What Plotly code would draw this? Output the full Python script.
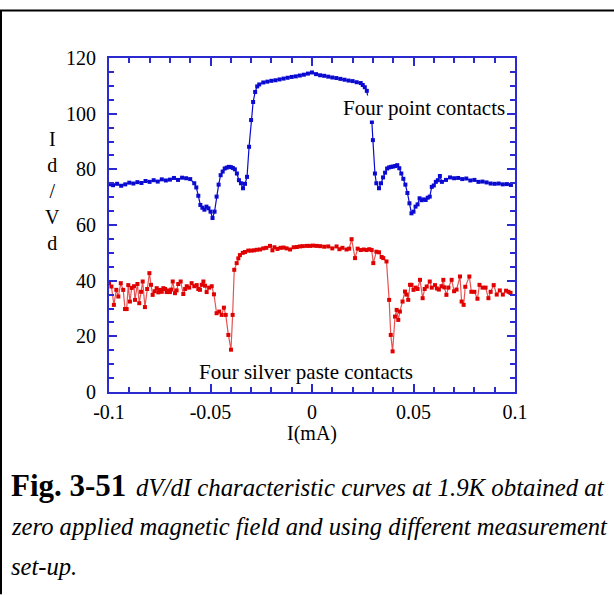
import plotly.graph_objects as go

# ---------------- data ----------------
blue_x = [-0.100, -0.098, -0.096, -0.094, -0.092, -0.090, -0.088, -0.086, -0.084, -0.082,
          -0.080, -0.078, -0.076, -0.074, -0.072, -0.070, -0.068, -0.066, -0.064, -0.062,
          -0.060, -0.058, -0.057, -0.056, -0.055, -0.054, -0.053, -0.052, -0.051, -0.050,
          -0.049, -0.048, -0.047, -0.046, -0.045, -0.044, -0.043, -0.042, -0.041, -0.040,
          -0.039, -0.038, -0.037, -0.036, -0.035, -0.034, -0.033, -0.032, -0.031, -0.030,
          -0.029, -0.028, -0.027, -0.026, -0.024, -0.022, -0.020, -0.018, -0.016, -0.014,
          -0.012, -0.010, -0.008, -0.006, -0.004, -0.002, 0.000, 0.002, 0.004, 0.006,
          0.008, 0.010, 0.012, 0.014, 0.016, 0.018, 0.020, 0.022, 0.024, 0.025,
          0.026, 0.027, 0.0295, 0.030, 0.031, 0.0317, 0.033, 0.034, 0.035, 0.036,
          0.037, 0.038, 0.039, 0.040, 0.041, 0.042, 0.043, 0.044, 0.045, 0.046,
          0.047, 0.048, 0.049, 0.050, 0.051, 0.052, 0.053, 0.054, 0.055, 0.056,
          0.057, 0.058, 0.059, 0.060, 0.061, 0.062, 0.063, 0.064, 0.066, 0.068,
          0.070, 0.072, 0.074, 0.076, 0.078, 0.080, 0.082, 0.084, 0.086, 0.088,
          0.090, 0.092, 0.094, 0.096, 0.098]
blue_y = [74.6, 74.3, 74.8, 74.1, 74.6, 75.2, 74.9, 75.4, 75.1, 75.8,
          75.5, 76.1, 75.6, 76.4, 76.0, 76.3, 76.9, 76.2, 77.0, 76.8,
          76.5, 75.0, 73.5, 70.5, 67.2, 66.2, 65.5, 66.6, 66.0, 64.8,
          62.5, 64.8, 70.2, 74.5, 77.9, 79.2, 80.3, 80.6, 80.9, 80.8,
          80.5, 80.0, 78.5, 76.1, 75.0, 73.2, 74.8, 77.3, 88.1, 97.7,
          104.2, 107.8, 109.8, 110.5, 111.2, 111.5, 111.8, 112.0, 112.3, 112.6,
          112.9, 113.2, 113.4, 113.7, 114.0, 114.4, 114.8, 114.2, 113.8, 113.6,
          113.3, 113.0, 112.8, 112.5, 112.2, 111.9, 111.7, 111.3, 111.0, 110.3,
          109.5, 108.2, 97.0, 90.5, 78.5, 75.0, 73.2, 75.0, 77.1, 78.8,
          80.3, 80.7, 80.9, 81.0, 81.2, 81.5, 80.4, 78.5, 76.6, 74.5,
          71.5, 67.8, 64.2, 64.8, 66.6, 67.4, 69.6, 68.9, 69.2, 69.0,
          69.8, 70.2, 73.7, 74.2, 75.5, 76.1, 77.6, 75.5, 76.2, 77.1,
          76.8, 76.9, 76.5, 76.7, 76.0, 76.2, 75.5, 75.6, 75.3, 74.9,
          74.8, 74.9, 74.6, 74.7, 74.4]

red_x = [-0.1000, -0.0988, -0.0976, -0.0964, -0.0954, -0.0942, -0.0930, -0.0921, -0.0913, -0.0905,
         -0.0897, -0.0888, -0.0877, -0.0872, -0.0860, -0.0851, -0.0842, -0.0834, -0.0823, -0.0812,
         -0.0801, -0.0793, -0.0785, -0.0775, -0.0765, -0.0757, -0.0749, -0.0740, -0.0732, -0.0724,
         -0.0716, -0.0708, -0.0700, -0.0693, -0.0686, -0.0675, -0.0667, -0.0659, -0.0647, -0.0634,
         -0.0625, -0.0617, -0.0605, -0.0593, -0.0580, -0.0568, -0.0560, -0.0552, -0.0543, -0.0535,
         -0.0527, -0.0519, -0.0507, -0.0494, -0.0483, -0.0470, -0.0457, -0.0445, -0.0434, -0.0425,
         -0.0412, -0.0399, -0.0391, -0.0383, -0.0371, -0.0363, -0.0355, -0.0341, -0.0330, -0.0314,
         -0.0300, -0.0285, -0.0272, -0.0256, -0.0240, -0.0225, -0.0207, -0.0195, -0.0185, -0.0170,
         -0.0155, -0.0140, -0.0125, -0.0108, -0.0090, -0.0075, -0.0060, -0.0045, -0.0026, -0.0010,
         0.0005, 0.0023, 0.0040, 0.0060, 0.0080, 0.0100, 0.0121, 0.0135, 0.0150, 0.0170,
         0.0183, 0.0195, 0.0212, 0.0225, 0.0240, 0.0255, 0.0269, 0.0282, 0.0294, 0.0302,
         0.0317, 0.0330, 0.0343, 0.0351, 0.0367, 0.0380, 0.0388, 0.0397, 0.0409, 0.0417,
         0.0425, 0.0433, 0.0446, 0.0458, 0.0466, 0.0474, 0.0483, 0.0490, 0.0500, 0.0510,
         0.0520, 0.0532, 0.0545, 0.0555, 0.0565, 0.0580, 0.0590, 0.0606, 0.0615, 0.0625,
         0.0638, 0.0647, 0.0652, 0.0662, 0.0672, 0.0688, 0.0700, 0.0712, 0.0729, 0.0737,
         0.0747, 0.0755, 0.0775, 0.0785, 0.0800, 0.0815, 0.0825, 0.0840, 0.0855, 0.0869,
         0.0880, 0.0895, 0.0910, 0.0925, 0.0940, 0.0956, 0.0968, 0.0978]
red_y = [39.1, 37.9, 31.3, 36.7, 34.3, 39.1, 36.7, 29.8, 29.8, 38.4,
         32.5, 37.4, 38.0, 33.1, 38.8, 31.9, 36.0, 39.7, 30.5, 37.0,
         42.7, 38.5, 34.9, 36.2, 37.3, 35.8, 36.7, 36.0, 37.3, 37.0,
         35.9, 36.5, 35.9, 36.8, 39.7, 35.5, 36.5, 38.8, 39.7, 35.2,
         37.0, 38.0, 37.5, 39.1, 38.0, 38.4, 37.0, 36.7, 38.5, 39.7,
         38.2, 35.9, 37.5, 38.0, 35.1, 28.3, 28.9, 27.7, 30.3, 27.7,
         20.5, 15.2, 27.7, 43.9, 46.3, 48.0, 49.2, 50.0, 50.3, 50.8,
         50.8, 50.9, 51.1, 51.2, 51.6, 51.8, 52.5, 50.9, 52.0, 51.4,
         51.8, 51.9, 51.6, 51.2, 52.0, 52.1, 52.3, 52.4, 52.5, 52.5,
         52.6, 52.5, 52.4, 52.2, 52.3, 51.6, 52.3, 51.3, 51.8, 51.2,
         51.5, 54.9, 48.1, 51.5, 51.0, 51.2, 51.0, 51.3, 51.0, 46.3,
         50.4, 50.2, 48.5, 48.1, 46.9, 33.1, 20.5, 14.6, 27.1, 29.5,
         25.9, 28.9, 32.5, 36.1, 35.0, 33.1, 38.5, 38.5, 36.7, 37.5,
         37.0, 40.3, 33.7, 37.0, 37.9, 39.7, 37.5, 38.4, 37.2, 36.8,
         38.0, 40.3, 37.6, 34.9, 37.5, 40.3, 36.2, 36.8, 41.5, 32.5,
         31.3, 37.8, 41.5, 36.0, 36.0, 33.5, 38.5, 37.5, 37.5, 33.7,
         36.0, 38.4, 35.0, 36.5, 35.0, 36.4, 36.0, 35.6]

x_tickvals = [-0.1, -0.05, 0, 0.05, 0.1]
x_ticktext = ["-0.1", "-0.05", "0", "0.05", "0.1"]
y_tickvals = [0, 20, 40, 60, 80, 100, 120]
y_ticktext = ["0", "20", "40", "60", "80", "100", "120"]

y_label = "I<br>d<br>/<br>V<br>d"
x_label = "I(mA)"
label_top = "Four point contacts"
label_bottom = "Four silver paste contacts"
cap_fig = "<b>Fig. 3-51</b>"
cap_line1 = "<i>dV/dI characteristic curves at 1.9K obtained at</i>"
cap_line2 = "<i>zero applied magnetic field and using different measurement</i>"
cap_line3 = "<i>set-up.</i>"

# ---------------- layout geometry ----------------
W, H = 614, 595
L, R, T, B = 109, 515, 57.7, 392.3  # plot area in pixels


def px(xp):
    return (xp - L) / (R - L)


def py(yp):
    return (B - yp) / (B - T)


FONT = "Liberation Serif, Times New Roman, serif"
AXC = "#2a2ad0"
BLUE = "#0a0ad0"
RED = "#e00000"

fig = go.Figure()
fig.add_trace(go.Scatter(x=blue_x, y=blue_y, mode="lines+markers",
                         line=dict(color=BLUE, width=1.2),
                         marker=dict(symbol="square", size=4, color=BLUE),
                         showlegend=False))
fig.add_trace(go.Scatter(x=red_x, y=red_y, mode="lines+markers",
                         line=dict(color="rgba(225,40,40,0.8)", width=1.2),
                         marker=dict(symbol="square", size=4, color=RED),
                         showlegend=False))

axis_common = dict(showline=True, linecolor=AXC, linewidth=2, mirror="ticks",
                   ticks="inside", ticklen=8, tickwidth=1.5, tickcolor=AXC,
                   showgrid=False, zeroline=False,
                   tickfont=dict(family=FONT, size=20, color="black"))

fig.update_xaxes(range=[-0.1, 0.1], tickvals=x_tickvals, ticktext=x_ticktext,
                 minor=dict(dtick=0.01, ticks="inside", ticklen=5, tickcolor=AXC, tickwidth=1.5),
                 ticklabelstandoff=1, **axis_common)
fig.update_yaxes(range=[0, 120], tickvals=y_tickvals, ticktext=y_ticktext,
                 minor=dict(dtick=5, ticks="inside", ticklen=5, tickcolor=AXC, tickwidth=1.5),
                 ticklabelstandoff=7, **axis_common)

ann = []
ann.append(dict(x=px(52), y=py(191), xref="paper", yref="paper", text=y_label,
                showarrow=False, font=dict(family=FONT, size=20, color="black"),
                xanchor="center", yanchor="middle"))
ann.append(dict(x=px(312), y=py(434), xref="paper", yref="paper", text=x_label,
                showarrow=False, font=dict(family=FONT, size=20, color="black"),
                xanchor="center", yanchor="middle"))
ann.append(dict(x=px(424), y=py(108), xref="paper", yref="paper", text=label_top,
                showarrow=False, font=dict(family=FONT, size=21, color="black"),
                bgcolor="white", xanchor="center", yanchor="middle", borderpad=0))
ann.append(dict(x=px(306), y=py(372), xref="paper", yref="paper", text=label_bottom,
                showarrow=False, font=dict(family=FONT, size=21, color="black"),
                xanchor="center", yanchor="middle"))
# caption
ann.append(dict(x=px(9), y=py(486), xref="paper", yref="paper", text=cap_fig,
                showarrow=False, font=dict(family=FONT, size=31, color="black"),
                xanchor="left", yanchor="middle", align="left"))
ann.append(dict(x=px(607), y=py(488), xref="paper", yref="paper", text=cap_line1,
                showarrow=False, font=dict(family=FONT, size=24.8, color="black"),
                xanchor="right", yanchor="middle", align="right"))
ann.append(dict(x=px(9), y=py(527), xref="paper", yref="paper", text=cap_line2,
                showarrow=False, font=dict(family=FONT, size=24.6, color="black"),
                xanchor="left", yanchor="middle", align="left"))
ann.append(dict(x=px(9), y=py(567), xref="paper", yref="paper", text=cap_line3,
                showarrow=False, font=dict(family=FONT, size=24.6, color="black"),
                xanchor="left", yanchor="middle", align="left"))

shapes = [
    dict(type="line", xref="paper", yref="paper", x0=px(0), x1=px(W), y0=py(10), y1=py(10),
         line=dict(color="black", width=2)),
    dict(type="line", xref="paper", yref="paper", x0=px(1), x1=px(1), y0=py(10), y1=py(H),
         line=dict(color="black", width=2)),
]

fig.update_layout(width=W, height=H, autosize=False,
                  margin=dict(l=L, r=W - R, t=T, b=H - B, pad=0),
                  paper_bgcolor="white", plot_bgcolor="white",
                  annotations=ann, shapes=shapes, showlegend=False)

fig.write_html("out.html")
